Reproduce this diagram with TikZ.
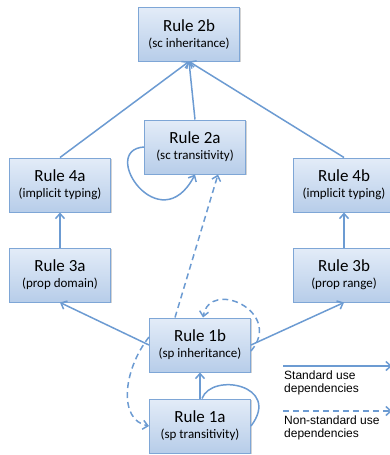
\documentclass[tikz,border=0pt]{standalone}
\usepackage{fontspec}
\setmainfont{Carlito}
\newfontfamily\legendfont{Liberation Sans}
\usepackage{tikz}
\usetikzlibrary{arrows.meta, positioning, calc, shadows}
\definecolor{ruleborder}{HTML}{7EA6D6}
\definecolor{ruletop}{HTML}{E3ECF8}
\definecolor{rulebottom}{HTML}{B7CDE9}
\definecolor{depblue}{HTML}{6C9BD2}
\newcommand{\rulesub}[1]{\\[-3pt]{\fontsize{13}{15}\selectfont #1}}
\tikzset{
    rule/.style={
        rectangle,
        draw=ruleborder,
        line width=1pt,
        minimum width=101pt,
        minimum height=54pt,
        top color=ruletop,
        bottom color=rulebottom,
        drop shadow={shadow xshift=1.2pt, shadow yshift=-1.2pt, opacity=0.35},
        align=center,
        font=\fontsize{17}{19}\selectfont
    },
    dep/.style={
        draw=depblue,
        line width=1.5pt,
        -{Straight Barb[length=5pt,width=9pt]}
    },
    nsdep/.style={
        dep,
        dash pattern=on 6pt off 4pt
    },
    legendtext/.style={
        anchor=north west,
        align=left,
        inner sep=0pt,
        font=\legendfont\fontsize{12}{13}\selectfont
    }
}
\begin{document}
\begin{tikzpicture}[x=1pt,y=-1pt]
\useasboundingbox (0,0) rectangle (390,455);

% Rules
\node[rule] (r2b) at (189,34) {Rule 2b\rulesub{(sc inheritance)}};
\node[rule] (r2a) at (195,147) {Rule 2a\rulesub{(sc transitivity)}};
\node[rule] (r4a) at (60,185) {Rule 4a\rulesub{(implicit typing)}};
\node[rule] (r4b) at (344,185) {Rule 4b\rulesub{(implicit typing)}};
\node[rule] (r3a) at (60,275) {Rule 3a\rulesub{(prop domain)}};
\node[rule] (r3b) at (344,275) {Rule 3b\rulesub{(prop range)}};
\node[rule] (r1b) at (200,345) {Rule 1b\rulesub{(sp inheritance)}};
\node[rule] (r1a) at (200,426) {Rule 1a\rulesub{(sp transitivity)}};

% Standard use dependencies
\draw[dep] (r4a.north) -- (r2b.south);
\draw[dep] (r2a.north) -- (r2b.south);
\draw[dep] (r4b.north) -- (r2b.south);
\draw[dep] (r3a) -- (r4a);
\draw[dep] (r3b) -- (r4b);
\draw[dep, {Straight Barb[length=5pt,width=9pt]}-] (r3a.south) -- (r1b.west);
\draw[dep, {Straight Barb[length=5pt,width=9pt]}-] (r3b.south) -- (r1b.east);
\draw[dep] (r1a.north) -- (r1b.south);
\draw[dep, -] ([xshift=2pt]r1a.north) .. controls (212,372) and (282,385) .. (r1a.east);
\draw[dep] (r2a.west) .. controls (98,150) and (160,242) .. (r2a.south);

% Non-standard use dependencies
\draw[nsdep] ([xshift=-25pt]r1b.north) -- ([xshift=23pt]r2a.south);
\draw[nsdep] ([yshift=-6pt]r1b.east) .. controls (284,312) and (210,278) .. ([xshift=3pt]r1b.north);
\draw[nsdep] ([yshift=8pt]r1b.west) .. controls (123,370) and (118,420) .. (r1a.west);

% Legend
\coordinate (lstd0) at (283,366);
\coordinate (lstd1) at (392,366);
\coordinate (lns0) at (283,411);
\coordinate (lns1) at (392,411);
\draw[dep] (lstd0) -- (lstd1);
\draw[nsdep] (lns0) -- (lns1);
\node[legendtext] (lstdtext) at (284,371) {Standard use\\dependencies};
\node[legendtext] (lnstext) at (284,416) {Non-standard use\\dependencies};

\end{tikzpicture}
\end{document}
